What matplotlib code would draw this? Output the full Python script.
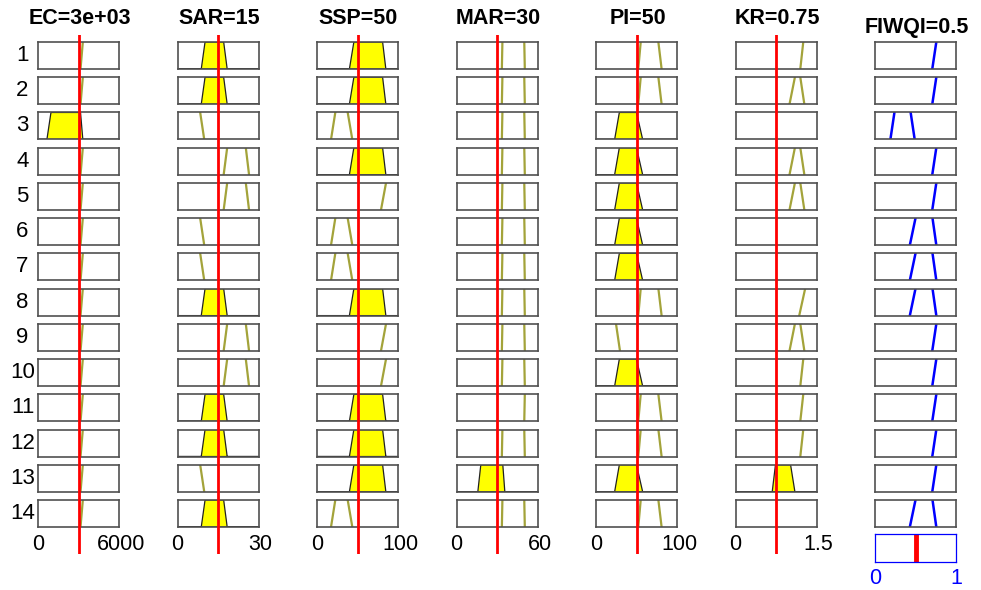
"""
Fuzzy rule viewer for the FIWQI inference system (14 rules, 6 inputs).
"""

import numpy as np
import matplotlib
matplotlib.use("Agg")
import matplotlib.pyplot as plt

plt.rcParams["font.family"] = ["Liberation Sans", "DejaVu Sans"]

# ============================================================
# Data
# ============================================================
var_names = ["EC", "SAR", "SSP", "MAR", "PI", "KR", "FIWQI"]
input_values = [3000, 15, 50, 30, 50, 0.75]
output_value = 0.5
var_ranges = [(0, 6000), (0, 30), (0, 100), (0, 60), (0, 100), (0, 1.5), (0, 1)]
range_labels = [("0", "6000"), ("0", "30"), ("0", "100"), ("0", "60"),
                ("0", "100"), ("0", "1.5"), ("0", "1")]

# trapezoid membership functions [a, b, c, d], numbered from 1
ec_mfs = [[660, 960, 3150, 3320], [3150, 3320, 6000, 6000]]
sar_mfs = [[0, 0, 8.4, 9.9], [8.8, 10.2, 17.1, 18.4], [17.1, 18.4, 25.3, 26.5]]
ssp_mfs = [[17.3, 22.6, 37.9, 43.6], [40, 45.5, 81, 85], [79, 85.2, 100, 100]]
mar_mfs = [[15.8, 18, 34.3, 35.8], [33.6, 34, 50.2, 50.6], [50.2, 50.6, 60, 60]]
pi_mfs = [[0, 0, 24.7, 29.6], [23, 28.8, 50, 57.6], [52.2, 55.2, 77, 81]]
kr_mfs = [[0.68, 0.74, 1.02, 1.1], [1.0, 1.1, 1.2, 1.275],
          [1.2, 1.255, 1.5, 1.5], [1.18, 1.29, 1.5, 1.5]]
fiwqi_mfs = [[0.19, 0.24, 0.44, 0.49], [0.43, 0.5, 0.71, 0.757],
             [0.707, 0.757, 1, 1]]
all_mfs = [ec_mfs, sar_mfs, ssp_mfs, mar_mfs, pi_mfs, kr_mfs, fiwqi_mfs]

# rule table: MF index per variable (0 = not used)
#          EC SAR SSP MAR PI KR FIWQI
rules = [[2, 2, 2, 2, 3, 3, 3],
         [2, 2, 2, 2, 3, 2, 3],
         [1, 1, 1, 2, 2, 0, 1],
         [2, 3, 2, 2, 2, 2, 3],
         [2, 3, 3, 2, 2, 2, 3],
         [2, 1, 1, 2, 2, 0, 2],
         [2, 1, 1, 2, 2, 0, 2],
         [2, 2, 2, 2, 3, 4, 2],
         [2, 3, 3, 2, 1, 2, 3],
         [2, 3, 3, 2, 2, 3, 3],
         [2, 2, 2, 3, 3, 3, 3],
         [2, 2, 2, 2, 3, 3, 3],
         [2, 1, 2, 1, 2, 1, 3],
         [2, 2, 1, 2, 3, 0, 2]]


# ============================================================
# Helpers
# ============================================================
W, H = 981, 590


def fig_rect(x0, y0, w, h):
    # pixel box (top-left origin) -> figure fraction rect
    return [x0 / W, 1 - (y0 + h) / H, w / W, h / H]


def trap(x, p):
    a, b, c, d = p
    up = np.ones_like(x) if b == a else np.clip((x - a) / (b - a), 0, 1)
    dn = np.ones_like(x) if d == c else np.clip((d - x) / (d - c), 0, 1)
    return np.minimum(up, dn)


def draw_slopes(ax, p, color, lw):
    # only the rising / falling edges show; flat parts sit on the box frame
    a, b, c, d = p
    if b > a:
        ax.plot([a, b], [0, 1], color=color, lw=lw)
    if d > c:
        ax.plot([c, d], [1, 0], color=color, lw=lw)


OLIVE = "#a3a33a"
BOX = "#505050"

col_left = [38 + 139.5 * j for j in range(7)]
col_w = 81
row_top = [42 + 35.23 * i for i in range(len(rules))]
row_h = 27

fig = plt.figure(figsize=(W / 100, H / 100), dpi=100)

# ============================================================
# Rule cells
# ============================================================
for i, rule in enumerate(rules):
    for j, k in enumerate(rule):
        ax = fig.add_axes(fig_rect(col_left[j], row_top[i], col_w, row_h))
        lo, hi = var_ranges[j]
        ax.set_xlim(lo, hi)
        ax.set_ylim(0, 1)
        ax.set_xticks([])
        ax.set_yticks([])
        for s in ax.spines.values():
            s.set_color(BOX)
            s.set_linewidth(1.2)
        if k == 0:
            continue
        p = all_mfs[j][k - 1]
        if j == 6:
            draw_slopes(ax, p, "blue", 1.8)
            continue
        mu = trap(np.array([float(input_values[j])]), p)[0]
        if mu > 0:
            xs = np.linspace(lo, hi, 600)
            ys = np.minimum(trap(xs, p), mu)
            xs = np.concatenate([[lo], xs, [hi]])
            ys = np.concatenate([[0], ys, [0]])
            ax.fill(xs, ys, facecolor="yellow", edgecolor="#222222", lw=0.9)
        else:
            draw_slopes(ax, p, OLIVE, 1.6)

    fig.text(22.5 / W, 1 - (row_top[i] + row_h / 2) / H, str(i + 1),
             ha="center", va="center", fontsize=16)

# ============================================================
# Input value lines, titles, range labels
# ============================================================
for j, name in enumerate(var_names):
    cx = col_left[j] + col_w / 2 + 1
    if j < 6:
        title = f"{name}={input_values[j]:.3g}"
        fig.text(cx / W, 1 - 19 / H, title, ha="center", va="center",
                 fontsize=15.5, fontweight="bold")
        ov = fig.add_axes(fig_rect(col_left[j], 35, col_w, 554 - 35))
        ov.set_xlim(*var_ranges[j])
        ov.axvline(input_values[j], color="red", lw=2)
        ov.axis("off")
        ov.patch.set_alpha(0)
        for x, lab in zip([col_left[j], col_left[j] + col_w + 2], range_labels[j]):
            fig.text(x / W, 1 - 545 / H, lab, ha="center", va="center",
                     fontsize=15.5)
    else:
        title = f"{name}={output_value:.3g}"
        fig.text(cx / W, 1 - 27 / H, title, ha="center", va="center",
                 fontsize=15.5, fontweight="bold")
        ax = fig.add_axes(fig_rect(col_left[j], 534, col_w, 28))
        ax.set_xlim(*var_ranges[j])
        ax.set_ylim(0, 1)
        ax.set_xticks([])
        ax.set_yticks([])
        for s in ax.spines.values():
            s.set_color("blue")
            s.set_linewidth(0.9)
        ax.axvline(output_value, color="red", lw=3.5)
        for x, lab in zip([col_left[j], col_left[j] + col_w], range_labels[j]):
            fig.text(x / W, 1 - 579 / H, lab, ha="center", va="center",
                     fontsize=15.5, color="blue")

plt.savefig("out.png", dpi=100)
plt.close()
